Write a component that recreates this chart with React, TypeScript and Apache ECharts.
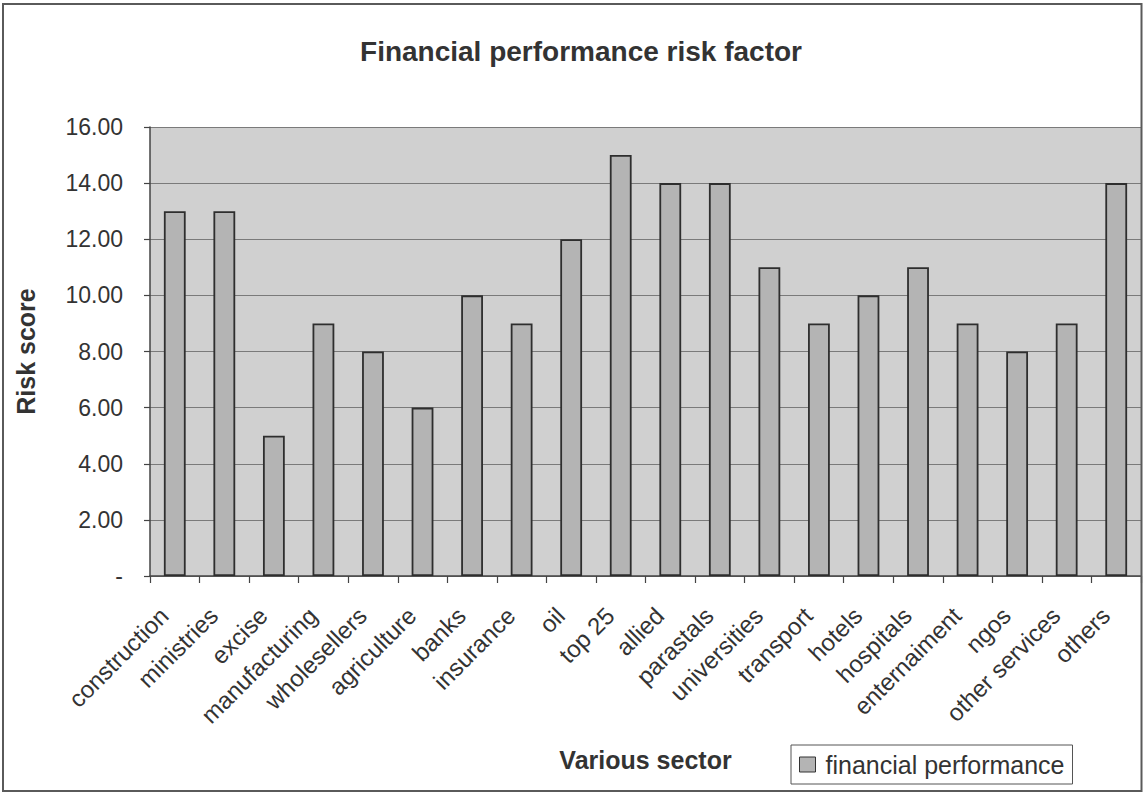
import React, { useEffect, useRef } from "react";
import * as echarts from "echarts";

// Sectors along the category axis
const sectors = [
  "construction",
  "ministries",
  "excise",
  "manufacturing",
  "wholesellers",
  "agriculture",
  "banks",
  "insurance",
  "oil",
  "top 25",
  "allied",
  "parastals",
  "universities",
  "transport",
  "hotels",
  "hospitals",
  "enternaiment",
  "ngos",
  "other services",
  "others",
];

// Financial performance risk score per sector
const riskScores = [13, 13, 5, 9, 8, 6, 10, 9, 12, 15, 14, 14, 11, 9, 10, 11, 9, 8, 9, 14];

const seriesName = "financial performance";
const chartTitle = "Financial performance risk factor";
const xAxisTitle = "Various sector";
const yAxisTitle = "Risk score";

// Value axis range
const yMin = 0;
const yMax = 16;
const yStep = 2;

const FONT = "'Liberation Sans', Arial, Helvetica, sans-serif";
const TEXT = "#333333";

export default function App() {
  const ref = useRef<HTMLDivElement>(null);

  useEffect(() => {
    if (!ref.current) return;
    const chart = echarts.init(ref.current, undefined, { renderer: "svg" });

    chart.setOption({
      animation: false,
      backgroundColor: "#ffffff",
      textStyle: { fontFamily: FONT, color: TEXT },
      title: {
        text: chartTitle,
        left: 576,
        top: 32,
        textAlign: "center",
        textStyle: { fontFamily: FONT, fontSize: 28, fontWeight: "bold", color: TEXT },
      },
      legend: {
        left: 791,
        top: 745,
        padding: [7, 8, 7, 8],
        backgroundColor: "#ffffff",
        borderColor: "#555555",
        borderWidth: 1,
        borderRadius: 0,
        itemWidth: 16,
        itemHeight: 15,
        icon: "rect",
        itemStyle: { color: "#b4b4b4", borderColor: "#333333", borderWidth: 1 },
        textStyle: { fontFamily: FONT, fontSize: 25, color: TEXT, padding: [0, 0, 0, 5] },
        data: [seriesName],
      },
      grid: {
        left: 150,
        top: 127,
        right: 2,
        bottom: 218,
        show: true,
        backgroundColor: "#d0d0d0",
        borderWidth: 0,
        containLabel: false,
      },
      xAxis: {
        type: "category",
        data: sectors,
        boundaryGap: true,
        name: xAxisTitle,
        nameLocation: "middle",
        nameGap: 171,
        nameTextStyle: { fontFamily: FONT, fontSize: 25, fontWeight: "bold", color: TEXT },
        axisLine: { show: true, lineStyle: { color: "#444444", width: 1.5 } },
        axisTick: { show: true, alignWithLabel: false, length: 7, lineStyle: { color: "#444444", width: 1.2 } },
        axisLabel: {
          interval: 0,
          rotate: 45,
          margin: 25,
          padding: [0, 15, 0, 0],
          fontFamily: FONT,
          fontSize: 24,
          color: TEXT,
        },
        splitLine: { show: false },
      },
      yAxis: {
        type: "value",
        min: yMin,
        max: yMax,
        interval: yStep,
        name: yAxisTitle,
        nameLocation: "middle",
        nameGap: 112,
        nameRotate: 90,
        nameTextStyle: { fontFamily: FONT, fontSize: 25, fontWeight: "bold", color: TEXT },
        axisLine: { show: true, lineStyle: { color: "#444444", width: 1.5 } },
        axisTick: { show: true, inside: false, length: 6, lineStyle: { color: "#444444", width: 1.2 } },
        axisLabel: {
          margin: 27,
          fontFamily: FONT,
          fontSize: 23,
          color: TEXT,
          formatter: (v: number) => (v === 0 ? "-" : v.toFixed(2)),
        },
        splitLine: { show: true, lineStyle: { color: "#7a7a7a", width: 1 } },
      },
      series: [
        {
          name: seriesName,
          type: "bar",
          data: riskScores,
          barWidth: "44%",
          itemStyle: { color: "#b4b4b4", borderColor: "#2e2e2e", borderWidth: 1.8 },
          emphasis: { disabled: true },
        },
      ],
      graphic: [
        {
          type: "rect",
          shape: { x: 3, y: 4, width: 1138.5, height: 787 },
          style: { fill: "none", stroke: "#5a5a5a", lineWidth: 2 },
          silent: true,
          z: 100,
        },
      ],
    });

    return () => chart.dispose();
  }, []);

  return (
    <div
      ref={ref}
      style={{ position: "absolute", left: 0, top: 0, width: 1143, height: 794 }}
    />
  );
}
